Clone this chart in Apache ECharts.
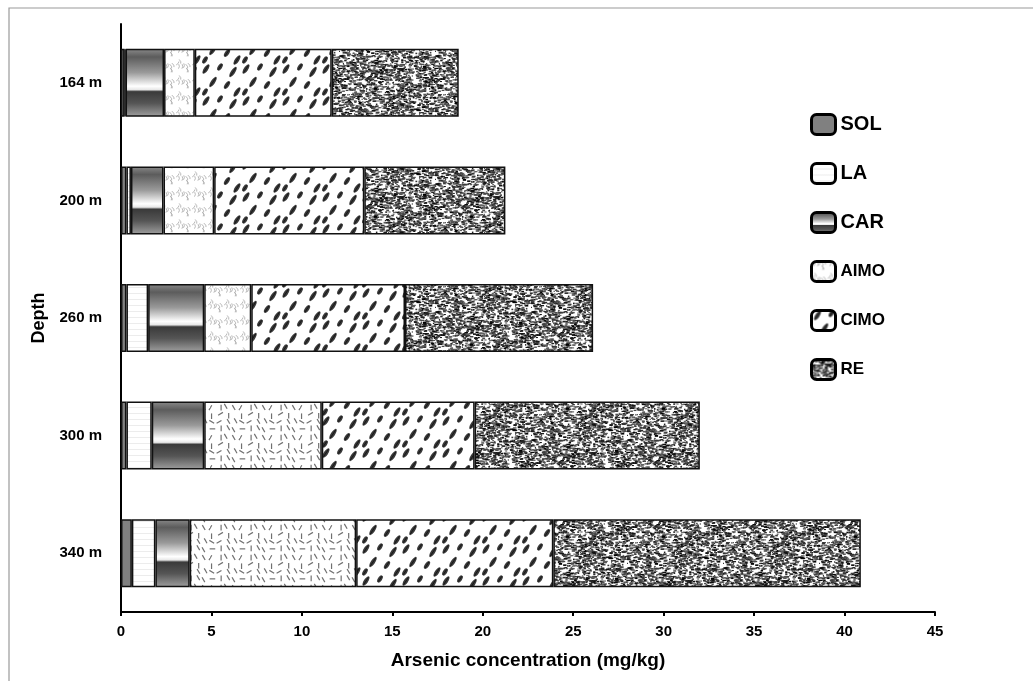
<!DOCTYPE html>
<html>
<head>
<meta charset="utf-8">
<script src="https://cdn.jsdelivr.net/npm/echarts@6/dist/echarts.min.js"></script>
<style>
  html, body { margin: 0; padding: 0; background: #fff; }
  #chart { width: 1033px; height: 681px; }
</style>
</head>
<body>
<div id="chart"></div>
<script>
// depth categories and arsenic fractions (mg/kg)
const depths = ['164 m', '200 m', '260 m', '300 m', '340 m'];
const sol  = [0.2, 0.3, 0.3, 0.3, 0.6];
const la   = [0.05, 0.25, 1.2, 1.4, 1.3];
const car  = [2.13, 1.8, 3.1, 2.9, 1.9];
const aimo = [1.7, 2.8, 2.6, 6.5, 9.2];
const cimo = [7.57, 8.3, 8.5, 8.45, 10.9];
const re   = [7.02, 7.8, 10.4, 12.45, 17.0];
const fractionNames = ['SOL', 'LA', 'CAR', 'AIMO', 'CIMO', 'RE'];

const FONT = '"Liberation Sans", Arial, sans-serif';

// seeded generator, only used for fill textures
function rng(seed) {
  return function () {
    seed |= 0; seed = seed + 0x6D2B79F5 | 0;
    let t = Math.imul(seed ^ seed >>> 15, 1 | seed);
    t = t + Math.imul(t ^ t >>> 7, 61 | t) ^ t;
    return ((t ^ t >>> 14) >>> 0) / 4294967296;
  };
}

function tile(w, h, draw) {
  const c = document.createElement('canvas');
  c.width = w; c.height = h;
  const g = c.getContext('2d');
  g.fillStyle = '#fff';
  g.fillRect(0, 0, w, h);
  draw(g, w, h);
  return { image: c, repeat: 'repeat' };
}

// draw at (x,y) plus wrapped copies so the tile is seamless
function wrap(w, h, x, y, fn) {
  for (const dx of [-w, 0, w]) for (const dy of [-h, 0, h]) fn(x + dx, y + dy);
}

const laFill = tile(4, 6, g => {
  g.fillStyle = '#ececec';
  g.fillRect(0, 5, 4, 1);
});

const carFill = {
  type: 'linear', x: 0, y: 0, x2: 0, y2: 1,
  colorStops: [
    { offset: 0, color: '#8a8a8a' },
    { offset: 0.12, color: '#5c5c5c' },
    { offset: 0.35, color: '#9a9a9a' },
    { offset: 0.55, color: '#ffffff' },
    { offset: 0.6, color: '#e8e8e8' },
    { offset: 0.63, color: '#3a3a3a' },
    { offset: 0.8, color: '#555555' },
    { offset: 1, color: '#a0a0a0' }
  ]
};

const aimoLight = tile(16, 16, (g, w, h) => {
  const r = rng(7);
  g.strokeStyle = '#b0b0b0';
  g.lineWidth = 0.9;
  for (let i = 0; i < 9; i++) {
    const x = r() * w, y = r() * h, a = -Math.PI / 2 + (r() - 0.5) * 1.4;
    wrap(w, h, x, y, (px, py) => {
      g.beginPath();
      g.moveTo(px, py);
      g.quadraticCurveTo(px + Math.cos(a) * 2 + 1.5, py + Math.sin(a) * 2,
                         px + Math.cos(a) * 4.5, py + Math.sin(a) * 4.5);
      g.stroke();
    });
  }
});

const aimoDash = tile(30, 30, (g, w, h) => {
  const r = rng(21);
  g.strokeStyle = '#707070';
  g.lineWidth = 1.2;
  const angles = [0, 30, 60, 90, 120, 150];
  for (let i = 0; i < 15; i++) {
    const x = (i % 4) * 7.5 + r() * 4, y = Math.floor(i / 4) * 7.5 + r() * 4;
    const a = angles[Math.floor(r() * 6)] * Math.PI / 180;
    wrap(w, h, x, y, (px, py) => {
      g.beginPath();
      g.moveTo(px - Math.cos(a) * 2.8, py - Math.sin(a) * 2.8);
      g.lineTo(px + Math.cos(a) * 2.8, py + Math.sin(a) * 2.8);
      g.stroke();
    });
  }
});

const cimoFill = tile(40, 32, (g, w, h) => {
  const pts = [[6, 5, 5.5], [20, 3, 4], [33, 8, 6], [13, 18, 6], [27, 21, 4.5], [5, 28, 4], [37, 28, 5.5]];
  pts.forEach(([x, y, len]) => {
    wrap(w, h, x, y, (px, py) => {
      g.save();
      g.translate(px, py);
      g.rotate(-Math.PI / 3.2);
      g.beginPath();
      g.ellipse(0, 0, len, 2.1, 0, 0, Math.PI * 2);
      g.fillStyle = '#3a3a3a';
      g.fill();
      g.strokeStyle = '#111';
      g.lineWidth = 0.8;
      g.beginPath();
      g.moveTo(-len * 0.8, 0);
      g.lineTo(len * 0.8, 0);
      g.stroke();
      g.restore();
    });
  });
});

const reFill = tile(96, 64, (g, w, h) => {
  const r = rng(99);
  for (let i = 0; i < 1500; i++) {
    const x = r() * w, y = r() * h;
    const len = 1 + r() * 3, th = 1 + r() * 0.8;
    const v = Math.floor(r() * 110);
    g.fillStyle = 'rgb(' + v + ',' + v + ',' + v + ')';
    wrap(w, h, x, y, (px, py) => g.fillRect(px, py, len, th));
  }
});

const fills = ['#808080', laFill, carFill, aimoLight, cimoFill, reFill];
const values = [sol, la, car, aimo, cimo, re];

const series = fractionNames.map((name, i) => ({
  name: name,
  type: 'bar',
  stack: 'total',
  barWidth: 68,
  itemStyle: { color: fills[i], borderColor: '#111', borderWidth: 1.5 },
  data: values[i].map((v, j) => {
    // the two deeper AIMO segments use the coarser dash texture
    if (name === 'AIMO' && j >= 3) return { value: v, itemStyle: { color: aimoDash } };
    return v;
  })
}));

const chart = echarts.init(document.getElementById('chart'), null, { renderer: 'canvas' });
chart.setOption({
  animation: false,
  backgroundColor: '#fff',
  graphic: [{
    type: 'rect',
    shape: { x: 9, y: 8, width: 1100, height: 1000 },
    style: { fill: 'none', stroke: '#9a9a9a', lineWidth: 1.2 }
  }],
  grid: { left: 121, right: 98, top: 24, bottom: 69 },
  legend: {
    orient: 'vertical',
    left: 805,
    top: 108,
    itemWidth: 24,
    itemHeight: 20,
    itemGap: 26,
    icon: 'roundRect',
    itemStyle: { borderColor: '#000', borderWidth: 3 },
    formatter: function (n) {
      return (n === 'SOL' || n === 'LA' || n === 'CAR') ? '{big|' + n + '}' : '{small|' + n + '}';
    },
    textStyle: {
      fontFamily: FONT, fontWeight: 'bold', color: '#000',
      rich: {
        big: { fontFamily: FONT, fontWeight: 'bold', fontSize: 20, color: '#000' },
        small: { fontFamily: FONT, fontWeight: 'bold', fontSize: 17, color: '#000' }
      }
    },
    data: fractionNames
  },
  xAxis: {
    type: 'value',
    min: 0,
    max: 45,
    interval: 5,
    name: 'Arsenic concentration (mg/kg)',
    nameLocation: 'middle',
    nameGap: 39,
    nameTextStyle: { fontFamily: FONT, fontWeight: 'bold', fontSize: 19, color: '#000' },
    axisLine: { show: true, lineStyle: { color: '#000', width: 2 } },
    axisTick: { show: true, length: 4, lineStyle: { color: '#000', width: 2 } },
    axisLabel: { margin: 12, fontFamily: FONT, fontWeight: 'bold', fontSize: 15, color: '#000' },
    splitLine: { show: false }
  },
  yAxis: {
    type: 'category',
    inverse: true,
    data: depths,
    name: 'Depth',
    nameLocation: 'middle',
    nameGap: 73,
    nameRotate: 90,
    nameTextStyle: { fontFamily: FONT, fontWeight: 'bold', fontSize: 18, color: '#000' },
    axisLine: { show: true, lineStyle: { color: '#000', width: 2 } },
    axisTick: { show: false },
    axisLabel: { margin: 19, fontFamily: FONT, fontWeight: 'bold', fontSize: 15, color: '#000' }
  },
  series: series
});
</script>
</body>
</html>
